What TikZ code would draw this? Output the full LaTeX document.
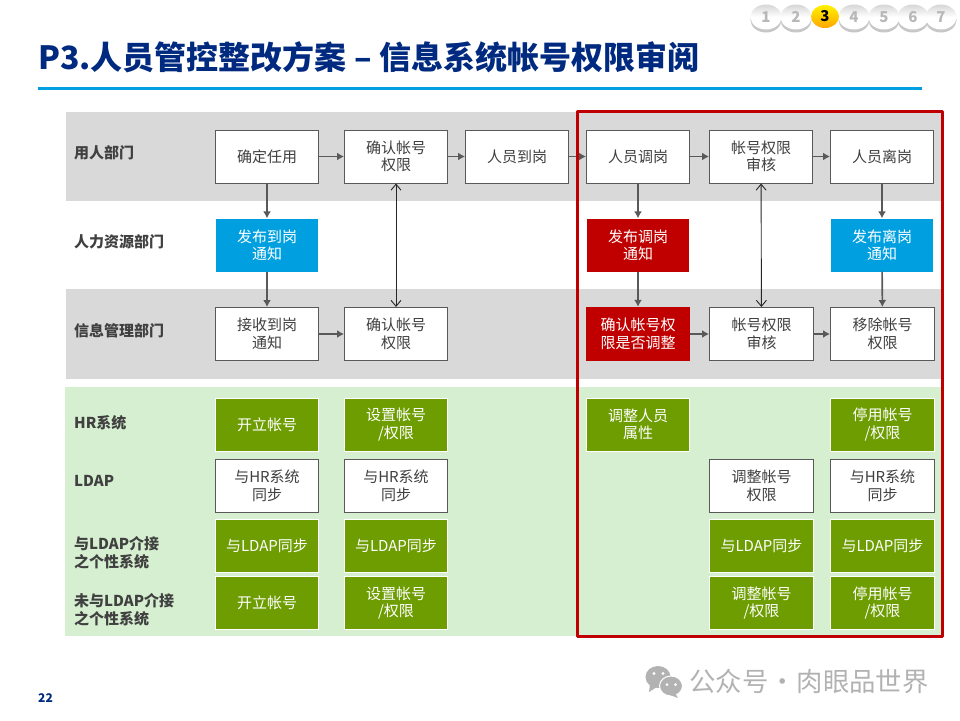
\documentclass[tikz,border=0pt]{standalone}
\usepackage{fontspec}
\usepackage{xcolor}
\setmainfont{Noto Sans CJK SC}
\usetikzlibrary{arrows.meta, positioning, shapes.geometric}
\definecolor{navy}{RGB}{0,42,127}
\definecolor{skyblue}{RGB}{0,160,224}
\definecolor{bandgrey}{RGB}{217,217,217}
\definecolor{bandgreen}{RGB}{213,239,208}
\definecolor{leaf}{RGB}{109,157,0}
\definecolor{alert}{RGB}{192,0,0}
\definecolor{ink}{RGB}{64,64,64}
\definecolor{arrowgrey}{RGB}{89,89,89}
\definecolor{wmgrey}{RGB}{178,178,178}

\begin{document}
\begin{tikzpicture}[
  x=1pt, y=-1pt,
  box/.style    = {minimum width=103pt, minimum height=53pt, inner sep=0pt, align=center,
                   font=\fontsize{15}{17.5}\selectfont},
  plain/.style  = {box, draw=arrowgrey, line width=1pt, fill=white, text=ink},
  notice/.style = {box, minimum width=102pt, fill=skyblue, text=white},
  hot/.style    = {box, minimum width=104pt, minimum height=54pt, fill=alert, text=white},
  sys/.style    = {box, draw=white, line width=1pt, fill=leaf, text=white},
  wide/.style   = {minimum width=104pt},
  lane/.style   = {anchor=west, align=left, text=ink, inner sep=0pt,
                   font=\fontsize{15}{18}\selectfont\bfseries},
  arr/.style    = {-{Latex[length=7pt,width=8pt]}, line width=1.6pt, color=arrowgrey},
  sync/.style   = {{Straight Barb[length=6pt,width=10pt]}-{Straight Barb[length=6pt,width=10pt]},
                   line width=0.9pt, color=black!85},
  ball/.style   = {ellipse, minimum width=31pt, minimum height=25pt, inner sep=0pt,
                   font=\fontsize{15}{15}\selectfont\bfseries}
]
\useasboundingbox (0,0) rectangle (960,720);

% bands
\fill[bandgrey]  (66,112) rectangle (943,201);
\fill[bandgrey]  (66,289) rectangle (943,379);
\fill[bandgreen] (65,387) rectangle (943,636);

% title
\node[anchor=west, inner sep=0pt, text=navy, font=\fontsize{32}{34}\selectfont\bfseries] (title) at (38,57)
  {P3.人员管控整改方案 – 信息系统帐号权限审阅};
\fill[skyblue] (38,87) rectangle (922,90);

% pager
\foreach \n/\cx in {1/766,2/796,4/854,5/884,6/913,7/941}
  \fill[black!22] (\cx,20) ellipse (15.5pt and 12.5pt);
\foreach \n/\cx in {1/766,2/796,4/854,5/884,6/913,7/941}
  \node[ball, top color=black!16, bottom color=white, middle color=white, text=black!28] (p\n) at (\cx,17) {\n};
\node[ball, minimum width=28pt, minimum height=23pt, top color=yellow!90!orange, bottom color=orange!70!yellow, text=black] (p3) at (825,16.5) {3};

% lane labels
\node[lane] (hire)  at (74,153) {用人部门};
\node[lane] (hr)    at (74,242) {人力资源部门};
\node[lane] (it)    at (74,331) {信息管理部门};
\node[lane] (hrs)   at (74,423) {HR系统};
\node[lane] (ldap)  at (74,481) {LDAP};
\node[lane] (conn)  at (74,553) {与LDAP介接\\之个性系统};
\node[lane] (uncon) at (74,610) {未与LDAP介接\\之个性系统};

% first row
\node[plain] (assign)  at (267,156.5)   {确定任用};
\node[plain] (confirm) at (396,156.5)   {确认帐号\\权限};
\node[plain] (arrive)  at (517,156.5)   {人员到岗};
\node[plain] (move)    at (638,156.5)   {人员调岗};
\node[plain] (review)  at (761,156.5)   {帐号权限\\审核};
\node[plain] (leave)   at (882,156.5)   {人员离岗};

% second row
\node[notice] (nArrive) at (267,245) {发布到岗\\通知};
\node[notice, fill=alert] (nMove) at (638,245) {发布调岗\\通知};
\node[notice] (nLeave)  at (882,245) {发布离岗\\通知};

% third row
\node[plain] (recv)    at (267,334)   {接收到岗\\通知};
\node[plain] (confirmB) at (396,334)  {确认帐号\\权限};
\node[hot]   (check)   at (638,334)   {确认帐号权\\限是否调整};
\node[plain, wide] (reviewB) at (761.5,334) {帐号权限\\审核};
\node[plain, wide] (remove)  at (882.5,334) {移除帐号\\权限};

% systems
\node[sys]   (a1) at (267,424.5)   {开立帐号};
\node[sys]   (a2) at (396,424.5)   {设置帐号\\/权限};
\node[sys]   (a4) at (638,424.5)   {调整人员\\属性};
\node[sys, wide]   (a6) at (882.5,424.5) {停用帐号\\/权限};
\node[plain] (b1) at (267,486)     {与HR系统\\同步};
\node[plain] (b2) at (396,486)     {与HR系统\\同步};
\node[plain, wide] (b5) at (761.5,486)   {调整帐号\\权限};
\node[plain, wide] (b6) at (882.5,486)   {与HR系统\\同步};
\node[sys]   (c1) at (267,545.5)   {与LDAP同步};
\node[sys]   (c2) at (396,545.5)   {与LDAP同步};
\node[sys, wide]   (c5) at (761.5,545.5) {与LDAP同步};
\node[sys, wide]   (c6) at (882.5,545.5) {与LDAP同步};
\node[sys]   (d1) at (267,603)     {开立帐号};
\node[sys]   (d2) at (396,603)     {设置帐号\\/权限};
\node[sys, wide]   (d5) at (761.5,603)   {调整帐号\\/权限};
\node[sys, wide]   (d6) at (882.5,603)   {停用帐号\\/权限};

\draw[arr] (assign) -- (confirm);
\draw[arr] (confirm) -- (arrive);
\draw[arr] (arrive) -- (move);
\draw[arr] (move) -- (review);
\draw[arr] (review) -- (leave);
\draw[arr] (assign) -- (nArrive);
\draw[arr] (nArrive) -- (recv);
\draw[arr] (recv) -- (confirmB);
\draw[arr] (move) -- (nMove);
\draw[arr] (nMove) -- (check);
\draw[arr] (check) -- (reviewB);
\draw[arr] (reviewB) -- (remove);
\draw[arr] (leave) -- (nLeave);
\draw[arr] (nLeave) -- (remove);
\draw[sync] (confirm) -- (confirmB);
\draw[sync] (review) -- (reviewB);

% focus frame
\draw[alert, line width=3pt, line join=round] (577.5,111.7) rectangle (942.5,636.5);

% footer
\node[anchor=west, inner sep=0pt, text=navy, font=\fontsize{12}{12}\selectfont\bfseries] (page) at (38,698) {22};
\fill[wmgrey] (658,677) ellipse (12.5pt and 11pt);
\fill[wmgrey] (650,684) -- (649,692) -- (657,687) -- cycle;
\fill[white] (654,673.5) circle (1.7pt) (663,673.5) circle (1.7pt);
\filldraw[fill=wmgrey, draw=white, line width=1pt] (671,686) ellipse (11.5pt and 10pt);
\fill[wmgrey] (675,693) -- (678,698) -- (670,695) -- cycle;
\fill[white] (667,684.5) circle (1.5pt) (675.5,684.5) circle (1.5pt);
\node[anchor=west, inner sep=0pt, text=wmgrey, font=\fontsize{26.4}{28}\selectfont] (brand) at (689,681) {公众号\hspace{-5pt} · \hspace{-5pt}肉眼品世界};
\end{tikzpicture}
\end{document}
